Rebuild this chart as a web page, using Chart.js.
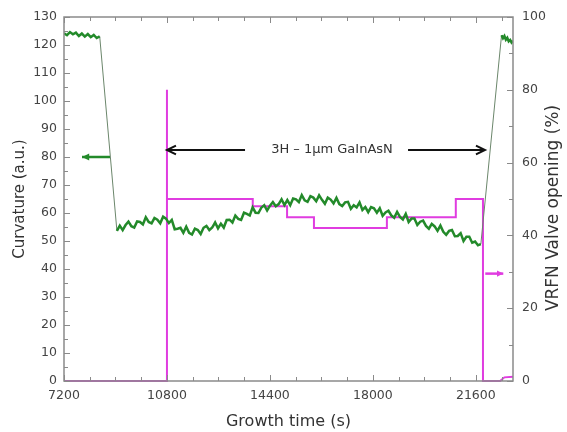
<!DOCTYPE html>
<html><head><meta charset="utf-8">
<script src="https://cdn.jsdelivr.net/npm/chart.js@4/dist/chart.umd.min.js"></script>
<style>html,body{margin:0;padding:0;background:#fff;}#wrap{width:567px;height:432px;}</style>
</head><body><div id="wrap"><canvas id="c" width="567" height="432"></canvas></div>
<script>
// ---------- data ----------
const xTickLabels = [7200, 10800, 14400, 18000, 21600];
const leftTickLabels = [0,10,20,30,40,50,60,70,80,90,100,110,120,130];
const rightTickLabels = [0,20,40,60,80,100];

// curvature (a.u.) – initial plateau
const curvA_t0 = 7200, curvA_dt = 104;
const curvA = [124.2,123.5,124.6,123.8,124.4,123.2,124.1,123.0,123.9,122.8,123.6,122.5,123.1];

// curvature during growth
const curvB_t0 = 9050, curvB_dt = 101;
const curvB = [
53.6,55.5,53.9,55.7,56.9,55.3,54.8,57.0,56.8,55.9,58.5,56.8,56.3,58.2,57.6,56.3,58.7,58.0,56.4,57.5,
54.2,54.4,54.7,52.9,55.1,52.9,52.3,54.4,53.9,52.5,54.7,55.4,53.9,54.8,56.6,54.5,56.2,54.8,57.5,57.6,
56.6,59.1,57.9,57.5,60.1,59.7,59.1,62.0,60.1,60.0,61.9,62.8,60.9,62.6,63.9,62.4,63.2,64.9,62.8,64.6,
62.8,65.2,64.9,63.9,66.4,64.5,64.0,66.0,65.5,64.2,66.3,64.7,63.3,65.5,64.8,63.4,65.4,63.2,62.5,63.8,
64.0,61.5,62.8,62.0,63.8,61.1,62.1,60.3,62.1,61.7,60.1,61.7,59.0,60.2,60.8,59.1,58.3,60.4,58.6,57.7,
59.7,56.8,58.0,58.0,55.7,56.9,57.3,55.4,54.4,56.1,55.2,53.6,55.5,53.3,52.2,53.6,53.9,51.7,51.8,52.8,
50.0,51.5,51.5,49.4,49.8,48.5,48.9];

// curvature after growth
const curvC_t0 = 22500, curvC_dt = 50;
const curvC = [123.5,122.4,123.2,121.9,122.6,121.3,121.8,120.9,121.5];

// VRFN valve opening (%)
const valveT = [7200,10800,10800,10800,13800,13800,15000,15000,15940,15940,18490,18490,20900,20900,21850,21850,22450,22600,22900];
const valveV = [0,   0,    80,   50,   50,   48,   48,   45,   45,   42,   42,   45,   45,   50,   50,   0,    0,    1,    1.2];

// ---------- styling ----------
const FAM = "'DejaVu Sans', sans-serif";
const GREEN = '#238a2a';
const MAGENTA = '#e03ce0';
const AXIS = '#8a8a8a';

function seg(t0, dt, vals){ return vals.map((v,i)=>({x:t0+i*dt, y:v})); }
const A = seg(curvA_t0, curvA_dt, curvA);
const B = seg(curvB_t0, curvB_dt, curvB);
const C = seg(curvC_t0, curvC_dt, curvC);
const drop = [A[A.length-1], B[0]];
const rise = [B[B.length-1], C[0]];
const valve = valveT.map((t,i)=>({x:t, y:valveV[i]}));

function arrow(ctx, x1, y1, x2, y2, color, lw, head, filled){
  ctx.save();
  ctx.strokeStyle = color; ctx.fillStyle = color; ctx.lineWidth = lw;
  ctx.beginPath(); ctx.moveTo(x1,y1); ctx.lineTo(x2,y2); ctx.stroke();
  const ang = Math.atan2(y2-y1, x2-x1);
  const a1 = ang + Math.PI - 0.45, a2 = ang + Math.PI + 0.45;
  ctx.beginPath();
  ctx.moveTo(x2 + head*Math.cos(a1), y2 + head*Math.sin(a1));
  ctx.lineTo(x2, y2);
  ctx.lineTo(x2 + head*Math.cos(a2), y2 + head*Math.sin(a2));
  if (filled){ ctx.closePath(); ctx.fill(); } else { ctx.stroke(); }
  ctx.restore();
}

const decor = {
  id:'decor',
  afterDatasetsDraw(chart){
    const {ctx, chartArea:a, scales} = chart;
    ctx.save();
    ctx.strokeStyle = AXIS; ctx.lineWidth = 1.5;
    ctx.strokeRect(a.left, a.top, a.right-a.left, a.bottom-a.top);
    ctx.lineWidth = 1;
    const xs = scales.x;
    for (let t = 7200; t <= 22900; t += 900){
      const px = Math.round(xs.getPixelForValue(t)) + 0.5;
      const L = (t % 3600 === 0) ? 6 : 4;
      ctx.beginPath();
      ctx.moveTo(px, a.bottom); ctx.lineTo(px, a.bottom - L);
      ctx.moveTo(px, a.top); ctx.lineTo(px, a.top + L);
      ctx.stroke();
    }
    const ys = scales.y;
    for (let v = 0; v <= 130; v += 5){
      const py = Math.round(ys.getPixelForValue(v)) + 0.5;
      const L = (v % 10 === 0) ? 6 : 4;
      ctx.beginPath(); ctx.moveTo(a.left, py); ctx.lineTo(a.left + L, py); ctx.stroke();
    }
    const y2 = scales.y2;
    for (let v = 0; v <= 100; v += 10){
      const py = Math.round(y2.getPixelForValue(v)) + 0.5;
      const L = (v % 20 === 0) ? 6 : 4;
      ctx.beginPath(); ctx.moveTo(a.right, py); ctx.lineTo(a.right - L, py); ctx.stroke();
    }
    ctx.restore();
  },
  afterDraw(chart){
    const {ctx, scales} = chart;
    const xs = scales.x, ys = scales.y, y2 = scales.y2;
    arrow(ctx, xs.getPixelForValue(8808), ys.getPixelForValue(80), xs.getPixelForValue(7829), ys.getPixelForValue(80), GREEN, 2.5, 8, true);
    arrow(ctx, xs.getPixelForValue(21930), y2.getPixelForValue(29.5), xs.getPixelForValue(22560), y2.getPixelForValue(29.5), MAGENTA, 2.5, 7, true);
    const yb = ys.getPixelForValue(82.5);
    arrow(ctx, xs.getPixelForValue(13530), yb, xs.getPixelForValue(10800), yb, '#111', 2, 10, false);
    arrow(ctx, xs.getPixelForValue(19230), yb, xs.getPixelForValue(21920), yb, '#111', 2, 10, false);
    ctx.save();
    ctx.fillStyle = '#333'; ctx.font = "13px " + FAM;
    ctx.textAlign = 'center'; ctx.textBaseline = 'middle';
    ctx.fillText('3H \u2013 1\u03bcm GaInAsN', xs.getPixelForValue(16570), yb);
    ctx.translate(554, 208);
    ctx.rotate(-Math.PI/2);
    ctx.font = "17px " + FAM; ctx.fillStyle = '#333';
    ctx.fillText('VRFN Valve opening (%)', 0, 0);
    ctx.restore();
  }
};

const greenLine = {yAxisID:'y', borderColor:GREEN, borderWidth:2.5, pointRadius:0, tension:0, fill:false};
new Chart(document.getElementById('c').getContext('2d'), {
  type:'line',
  data:{datasets:[
    Object.assign({data:A}, greenLine),
    Object.assign({data:B}, greenLine),
    Object.assign({data:C}, greenLine),
    {data:drop, yAxisID:'y', borderColor:'#6b866b', borderWidth:1, pointRadius:0, tension:0},
    {data:rise, yAxisID:'y', borderColor:'#6b866b', borderWidth:1, pointRadius:0, tension:0},
    {data:valve, yAxisID:'y2', borderColor:MAGENTA, borderWidth:2, pointRadius:0, tension:0, clip:false}
  ]},
  options:{
    responsive:false, animation:false, devicePixelRatio:1,
    layout:{padding:{top:17,left:0,right:0,bottom:0}},
    plugins:{legend:{display:false}, tooltip:{enabled:false}},
    scales:{
      x:{type:'linear', position:'bottom', min:7200, max:22900,
        grid:{display:false, drawTicks:false}, border:{display:false},
        afterBuildTicks:s=>{ s.ticks = xTickLabels.map(v=>({value:v})); },
        afterFit:s=>{ s.height = 51; },
        ticks:{padding:7, autoSkip:false, maxRotation:0, color:'#444', font:{family:FAM, size:12.5}, callback:v=>String(v)},
        title:{display:true, text:'Growth time (s)', color:'#333', font:{family:FAM, size:16}, padding:{top:0,bottom:1}}
      },
      y:{type:'linear', position:'left', min:0, max:130,
        grid:{display:false, drawTicks:false}, border:{display:false},
        afterBuildTicks:s=>{ s.ticks = leftTickLabels.map(v=>({value:v})); },
        afterFit:s=>{ s.width = 64; },
        ticks:{padding:7, color:'#444', font:{family:FAM, size:12.5}, callback:v=>String(v)},
        title:{display:true, text:'Curvature (a.u.)', color:'#333', font:{family:FAM, size:15}, padding:{top:11,bottom:0}}
      },
      y2:{type:'linear', position:'right', min:0, max:100,
        grid:{display:false, drawTicks:false}, border:{display:false},
        afterBuildTicks:s=>{ s.ticks = rightTickLabels.map(v=>({value:v})); },
        afterFit:s=>{ s.width = 54; },
        ticks:{padding:9, color:'#444', font:{family:FAM, size:12.5}, callback:v=>String(v)}
      }
    }
  },
  plugins:[decor]
});
</script>
</body></html>
